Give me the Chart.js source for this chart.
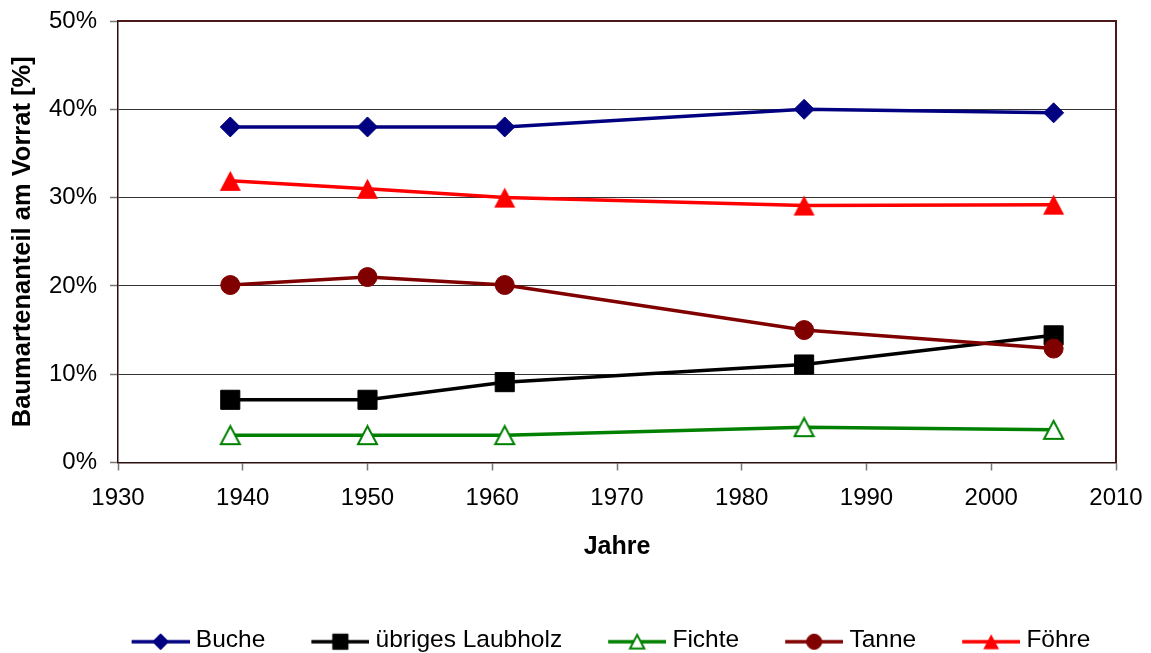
<!DOCTYPE html>
<html>
<head>
<meta charset="utf-8">
<script src="https://cdn.jsdelivr.net/npm/chart.js@4/dist/chart.umd.min.js"></script>
<style>
  body { margin: 0; background: #fff; }
  canvas { display: block; }
</style>
</head>
<body>
<canvas id="chart" width="1151" height="653"></canvas>
<script>
// Daten
const jahre = [1939, 1950, 1961, 1985, 2005];
const buche = [38.0, 38.0, 38.0, 40.0, 39.6];
const laubholz = [7.1, 7.1, 9.1, 11.1, 14.4];
const fichte = [3.1, 3.1, 3.1, 4.0, 3.7];
const tanne = [20.1, 21.0, 20.1, 15.0, 12.9];
const foehre = [31.9, 31.0, 30.0, 29.1, 29.2];
const yTicks = [0, 10, 20, 30, 40, 50];
const xTicks = [1930, 1940, 1950, 1960, 1970, 1980, 1990, 2000, 2010];

const FONT = "'Liberation Sans', Arial, sans-serif";
Chart.defaults.font.family = FONT;
Chart.defaults.color = "#000";

// Dreieck wie in Excel: mittig in seiner Box
function drawTriangle(ctx, cx, cy, w, h, fill, stroke, lw) {
    ctx.beginPath();
    ctx.moveTo(cx, cy - h / 2);
    ctx.lineTo(cx + w / 2, cy + h / 2);
    ctx.lineTo(cx - w / 2, cy + h / 2);
    ctx.closePath();
    ctx.fillStyle = fill;
    ctx.fill();
    if (lw) {
        ctx.strokeStyle = stroke;
        ctx.lineWidth = lw;
        ctx.stroke();
    }
}
function triangleImage(w, h, fill, stroke, lw) {
    const c = document.createElement("canvas");
    c.width = w + 4;
    c.height = h + 4;
    drawTriangle(c.getContext("2d"), c.width / 2, c.height / 2, w, h, fill, stroke, lw);
    return c;
}

const serien = [
    { label: "Buche", data: buche, color: "#000080", style: "rectRot", radius: 10, fill: "#000080" },
    { label: "übriges Laubholz", data: laubholz, color: "#000000", style: "rect", radius: 13.5, fill: "#000000" },
    { label: "Fichte", data: fichte, color: "#008000", tri: true, size: 19, fill: "#ffffff", border: 2 },
    { label: "Tanne", data: tanne, color: "#800000", style: "circle", radius: 9.5, fill: "#800000" },
    { label: "Föhre", data: foehre, color: "#ff0000", tri: true, size: 21, fill: "#ff0000" }
];
serien.forEach(s => {
    if (s.tri) {
        s.style = triangleImage(s.size, s.size - 1, s.fill, s.color, s.border || 0);
        s.radius = s.size / 2;
    }
});

// Legendensymbol: Linie mit Marker
const BOX_W = 94;
const LINE_W = 58;
function legendImage(s) {
    const c = document.createElement("canvas");
    c.width = BOX_W + 12;
    c.height = 26;
    const ctx = c.getContext("2d");
    const x0 = c.width - LINE_W;
    const ym = 15;
    ctx.strokeStyle = s.color;
    ctx.lineWidth = 3.5;
    ctx.beginPath();
    ctx.moveTo(x0, ym);
    ctx.lineTo(c.width, ym);
    ctx.stroke();
    if (s.tri) {
        drawTriangle(ctx, x0 + LINE_W / 2, ym, s.size * 0.75, s.size * 0.72, s.fill, s.color, s.border || 0);
        return c;
    }
    ctx.fillStyle = s.fill;
    ctx.strokeStyle = s.color;
    ctx.lineWidth = 1;
    Chart.helpers.drawPoint(ctx, {
        pointStyle: s.style,
        radius: s.radius * 0.8,
        borderWidth: 1,
        rotation: 0
    }, x0 + LINE_W / 2, ym);
    return c;
}
const legendImgs = serien.map(legendImage);

const datasets = serien.map((s, i) => ({
    label: s.label,
    data: jahre.map((j, k) => ({ x: j, y: s.data[k] })),
    borderColor: s.color,
    backgroundColor: s.fill,
    borderWidth: 3.5,
    pointStyle: s.style,
    pointRadius: s.radius,
    pointHoverRadius: s.radius,
    pointBackgroundColor: s.fill,
    pointBorderColor: s.color,
    pointBorderWidth: 1,
    order: serien.length - i,
    tension: 0
}));

const rahmen = {
    id: "rahmen",
    afterLayout(chart) {
        chart.legend.top += 9;
        chart.legend.bottom += 9;
        chart.legend.left += 32;
        chart.legend.right += 32;
    },
    afterDatasetsDraw(chart) {
        const a = chart.chartArea;
        const ctx = chart.ctx;
        ctx.save();
        ctx.strokeStyle = "#4a1a1a";
        ctx.lineWidth = 2;
        ctx.beginPath();
        ctx.moveTo(a.left, a.top);
        ctx.lineTo(a.right, a.top);
        ctx.lineTo(a.right, a.bottom);
        ctx.stroke();
        ctx.restore();
    }
};

new Chart(document.getElementById("chart"), {
    type: "line",
    data: { datasets },
    plugins: [rahmen],
    options: {
        responsive: false,
        animation: false,
        devicePixelRatio: 1,
        layout: { padding: { left: 0, right: 35, top: 21, bottom: 0 } },
        scales: {
            x: {
                type: "linear",
                min: xTicks[0],
                max: xTicks[xTicks.length - 1],
                afterBuildTicks: sc => { sc.ticks = xTicks.map(v => ({ value: v })); },
                afterFit: sc => {
                    sc.height = 152;
                    sc.paddingLeft = 0;
                    sc.paddingRight = 0;
                },
                ticks: {
                    font: { size: 24 },
                    padding: 13,
                    maxRotation: 0,
                    callback: v => String(v)
                },
                grid: { drawOnChartArea: false, tickLength: 8, tickColor: "#777", tickWidth: 1.5 },
                border: { color: "#2a0f0f", width: 1.5 },
                title: {
                    display: true,
                    text: "Jahre",
                    font: { size: 25, weight: "bold" },
                    padding: { top: 4, bottom: 52 }
                }
            },
            y: {
                min: yTicks[0],
                max: yTicks[yTicks.length - 1],
                afterBuildTicks: sc => { sc.ticks = yTicks.map(v => ({ value: v })); },
                afterFit: sc => {
                    sc.width = 118;
                    sc.paddingTop = 0;
                    sc.paddingBottom = 0;
                },
                ticks: {
                    font: { size: 24 },
                    padding: 13,
                    callback: v => v + "%"
                },
                grid: { color: "#333", lineWidth: 1, tickLength: 8, tickColor: "#777", tickWidth: 1.5 },
                border: { color: "#2a0f0f", width: 1.5 },
                title: {
                    display: true,
                    text: "Baumartenanteil am Vorrat [%]",
                    font: { size: 25.5, weight: "bold" },
                    padding: { top: 8, bottom: 0 }
                }
            }
        },
        plugins: {
            tooltip: { enabled: false },
            legend: {
                position: "bottom",
                labels: {
                    usePointStyle: true,
                    pointStyleWidth: BOX_W,
                    padding: 4,
                    font: { size: 24.5 },
                    color: "#000",
                    sort: (a, b) => a.datasetIndex - b.datasetIndex,
                    generateLabels: chart => {
                        const items = Chart.defaults.plugins.legend.labels.generateLabels(chart);
                        items.forEach(it => { it.pointStyle = legendImgs[it.datasetIndex]; });
                        return items;
                    }
                }
            }
        }
    }
});
</script>
</body>
</html>
